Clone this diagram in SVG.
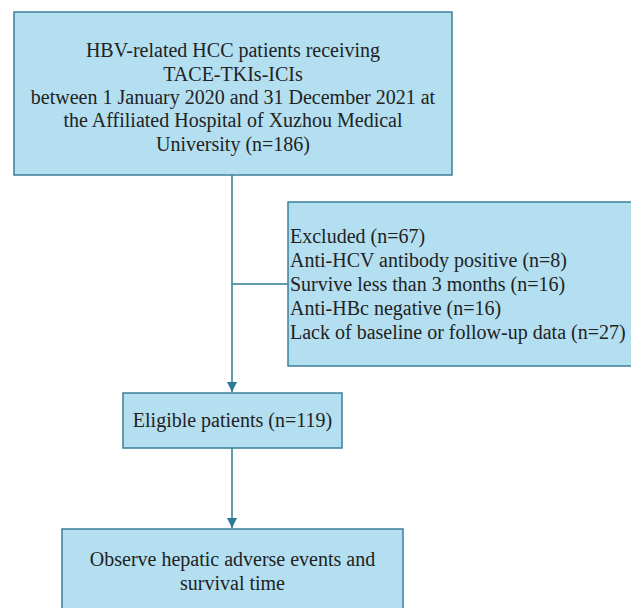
<svg xmlns="http://www.w3.org/2000/svg" width="631" height="608" viewBox="0 0 631 608">
<style>
.box{fill:#b3dff1;stroke:#3d7f99;stroke-width:1.5}
.t{font-size:20px;fill:#222}
.c{text-anchor:middle}
.ln{stroke:#2f7a95;stroke-width:1.5;fill:none}
</style>
<defs>
<marker id="arr" viewBox="0 0 10 10" refX="10" refY="5" markerWidth="10" markerHeight="10" markerUnits="userSpaceOnUse" orient="auto">
<path d="M0,0 L10,5 L0,10 Z" fill="#2f7a95"/>
</marker>
</defs>
<rect width="631" height="608" fill="#ffffff"/>
<g id="connectors">
<line class="ln" x1="232" y1="175" x2="232" y2="392" marker-end="url(#arr)"/>
<line class="ln" x1="232" y1="284" x2="288" y2="284"/>
<line class="ln" x1="232" y1="448" x2="232" y2="528" marker-end="url(#arr)"/>
</g>
<g font-family="Liberation Serif, Times New Roman, serif">
<g id="n-start">
<rect class="box" x="14" y="12" width="438" height="163"/>
<text class="t c" x="233" y="57">HBV-related HCC patients receiving</text>
<text class="t c" x="233" y="80.5">TACE-TKIs-ICIs</text>
<text class="t c" x="233" y="104">between 1 January 2020 and 31 December 2021 at</text>
<text class="t c" x="233" y="127">the Affiliated Hospital of Xuzhou Medical</text>
<text class="t c" x="233" y="150.5">University (n=186)</text>
</g>
<g id="n-excluded">
<rect class="box" x="288" y="202" width="360" height="164"/>
<text class="t" x="290" y="243">Excluded (n=67)</text>
<text class="t" x="290" y="267">Anti-HCV antibody positive (n=8)</text>
<text class="t" x="290" y="291">Survive less than 3 months (n=16)</text>
<text class="t" x="290" y="315">Anti-HBc negative (n=16)</text>
<text class="t" x="290" y="339">Lack of baseline or follow-up data (n=27)</text>
</g>
<g id="n-eligible">
<rect class="box" x="123" y="393" width="219" height="55"/>
<text class="t c" x="232.5" y="427">Eligible patients (n=119)</text>
</g>
<g id="n-observe">
<rect class="box" x="62" y="529" width="341" height="90"/>
<text class="t c" x="232.5" y="566">Observe hepatic adverse events and</text>
<text class="t c" x="232.5" y="590">survival time</text>
</g>
</g>
</svg>
